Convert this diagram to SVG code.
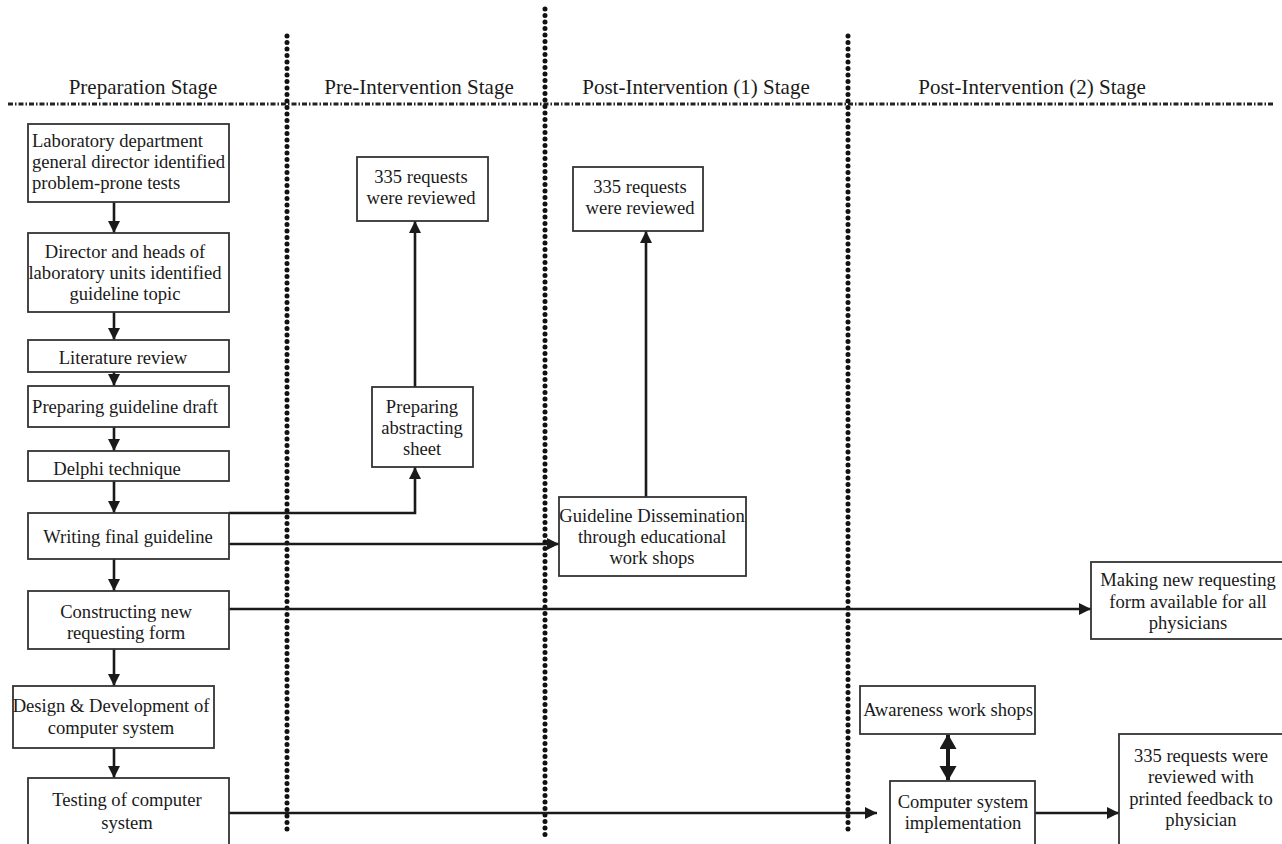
<svg xmlns="http://www.w3.org/2000/svg" width="1282" height="844" viewBox="0 0 1282 844">
<defs>
<marker id="ah" markerUnits="userSpaceOnUse" markerWidth="13" markerHeight="13" refX="12" refY="6" orient="auto"><path d="M0,0 L12,6 L0,12 z" fill="#1a1a1a"/></marker>
<marker id="big" markerUnits="userSpaceOnUse" markerWidth="16" markerHeight="18" refX="14" refY="8.5" orient="auto-start-reverse"><path d="M0,0 L15,8.5 L0,17 z" fill="#1a1a1a"/></marker>
</defs>
<style>
text{font-family:"Liberation Serif","Times New Roman",serif;fill:#1a1a1a}
.h{font-size:21px;text-anchor:middle}
.t{font-size:18.6px;text-anchor:middle}
.l{font-size:18.6px}
rect{fill:#fff;stroke:#333;stroke-width:1.8}
.c{fill:none;stroke:#1a1a1a;stroke-width:2.6}
.v{stroke:#111;stroke-width:5;stroke-linecap:round;stroke-dasharray:0 6.5;fill:none}
.d{stroke:#222;stroke-width:3;stroke-dasharray:5 2 1.5 2;fill:none}
</style>
<rect x="0" y="0" width="1282" height="844" style="fill:#fff;stroke:none"/>
<g id="dividers">
<line class="d" x1="8" y1="104" x2="1275" y2="104"/>
<line class="v" x1="287" y1="36" x2="287" y2="835"/>
<line class="v" x1="545" y1="9" x2="545" y2="835"/>
<line class="v" x1="848" y1="36" x2="848" y2="835"/>
</g>
<g id="headings">
<text class="h" x="143" y="94">Preparation Stage</text>
<text class="h" x="419" y="94">Pre-Intervention Stage</text>
<text class="h" x="696" y="94">Post-Intervention (1) Stage</text>
<text class="h" x="1032" y="94">Post-Intervention (2) Stage</text>
</g>
<g id="connectors">
<line class="c" x1="114" y1="202" x2="114" y2="233" marker-end="url(#ah)"/>
<line class="c" x1="114" y1="312" x2="114" y2="340" marker-end="url(#ah)"/>
<line class="c" x1="114" y1="372" x2="114" y2="386" marker-end="url(#ah)"/>
<line class="c" x1="114" y1="427" x2="114" y2="451" marker-end="url(#ah)"/>
<line class="c" x1="114" y1="481" x2="114" y2="513" marker-end="url(#ah)"/>
<line class="c" x1="114" y1="559" x2="114" y2="591" marker-end="url(#ah)"/>
<line class="c" x1="114" y1="649" x2="114" y2="686" marker-end="url(#ah)"/>
<line class="c" x1="114" y1="748" x2="114" y2="778" marker-end="url(#ah)"/>
<polyline class="c" points="229,513 415,513 415,467" marker-end="url(#ah)"/>
<line class="c" x1="415" y1="387" x2="415" y2="221" marker-end="url(#ah)"/>
<line class="c" x1="229" y1="544" x2="559" y2="544" marker-end="url(#ah)"/>
<line class="c" x1="646" y1="497" x2="646" y2="231" marker-end="url(#ah)"/>
<line class="c" x1="229" y1="609" x2="1091" y2="609" marker-end="url(#ah)"/>
<line class="c" x1="229" y1="813" x2="877" y2="813" marker-end="url(#ah)"/>
<line class="c" x1="1035" y1="813" x2="1119" y2="813" marker-end="url(#ah)"/>
<line class="c" x1="948" y1="735" x2="948" y2="780" style="stroke-width:4" marker-start="url(#big)" marker-end="url(#big)"/>
</g>
<g id="n1"><rect x="28" y="124" width="201" height="78"/>
<text class="l" x="32" y="147">Laboratory department</text>
<text class="l" x="32" y="168">general director identified</text>
<text class="l" x="32" y="189">problem-prone tests</text></g>
<g id="n2"><rect x="28" y="233" width="201" height="79"/>
<text class="t" x="125" y="258">Director and heads of</text>
<text class="t" x="125" y="279">laboratory units identified</text>
<text class="t" x="125" y="300">guideline topic</text></g>
<g id="n3"><rect x="28" y="340" width="201" height="32"/>
<text class="t" x="123" y="364">Literature review</text></g>
<g id="n4"><rect x="28" y="386" width="201" height="41"/>
<text class="t" x="125" y="413">Preparing guideline draft</text></g>
<g id="n5"><rect x="28" y="451" width="201" height="30"/>
<text class="t" x="117" y="475">Delphi technique</text></g>
<g id="n6"><rect x="28" y="513" width="201" height="46"/>
<text class="t" x="128" y="543">Writing final guideline</text></g>
<g id="n7"><rect x="28" y="591" width="201" height="58"/>
<text class="t" x="126" y="618">Constructing new</text>
<text class="t" x="126" y="639">requesting form</text></g>
<g id="n8"><rect x="13" y="686" width="201" height="62"/>
<text class="t" x="111" y="712">Design &amp; Development of</text>
<text class="t" x="111" y="734">computer system</text></g>
<g id="n9"><rect x="28" y="778" width="201" height="72"/>
<text class="t" x="127" y="806">Testing of computer</text>
<text class="t" x="127" y="829">system</text></g>
<g id="n10"><rect x="357" y="157" width="131" height="64"/>
<text class="t" x="421" y="183">335 requests</text>
<text class="t" x="421" y="204">were reviewed</text></g>
<g id="n11"><rect x="372" y="387" width="101" height="80"/>
<text class="t" x="422" y="413">Preparing</text>
<text class="t" x="422" y="434">abstracting</text>
<text class="t" x="422" y="455">sheet</text></g>
<g id="n12"><rect x="573" y="167" width="130" height="64"/>
<text class="t" x="640" y="193">335 requests</text>
<text class="t" x="640" y="214">were reviewed</text></g>
<g id="n13"><rect x="559" y="497" width="187" height="79"/>
<text class="t" x="652" y="522">Guideline Dissemination</text>
<text class="t" x="652" y="543">through educational</text>
<text class="t" x="652" y="564">work shops</text></g>
<g id="n14"><rect x="1091" y="562" width="200" height="77"/>
<text class="t" x="1188" y="586">Making new requesting</text>
<text class="t" x="1188" y="608">form available for all</text>
<text class="t" x="1188" y="629">physicians</text></g>
<g id="n15"><rect x="860" y="686" width="175" height="48"/>
<text class="t" x="948" y="716">Awareness work shops</text></g>
<g id="n16"><rect x="890" y="781" width="145" height="70"/>
<text class="t" x="963" y="808">Computer system</text>
<text class="t" x="963" y="829">implementation</text></g>
<g id="n17"><rect x="1119" y="734" width="172" height="117"/>
<text class="t" x="1201" y="762">335 requests were</text>
<text class="t" x="1201" y="783">reviewed with</text>
<text class="t" x="1201" y="805">printed feedback to</text>
<text class="t" x="1201" y="826">physician</text></g>
</svg>
